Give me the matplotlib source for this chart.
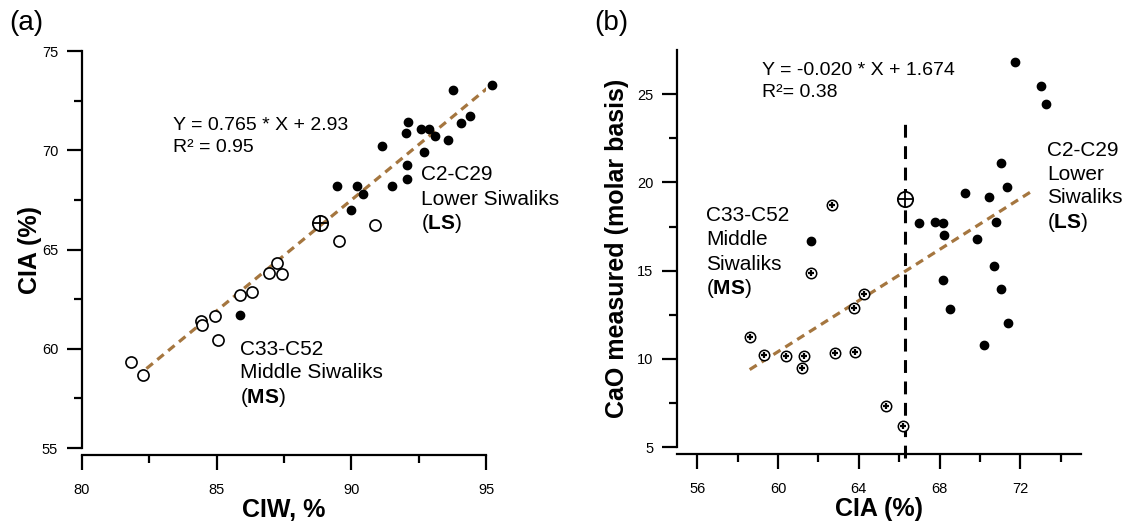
import matplotlib
matplotlib.use("Agg")
import matplotlib.pyplot as plt

plt.rcParams['font.family'] = ['Liberation Sans', 'DejaVu Sans']
plt.rcParams['mathtext.fontset'] = 'custom'
plt.rcParams['mathtext.rm'] = 'Liberation Sans'
plt.rcParams['mathtext.bf'] = 'Liberation Sans:bold'

# (a) CIW vs CIA
ls_ciw = [93.79, 95.23, 92.09, 92.02, 92.58, 92.87, 93.11, 93.59, 94.08, 94.41,
          91.12, 92.70, 92.08, 92.08, 91.50, 89.46, 90.20, 90.44, 89.97, 85.87]
ls_cia = [73.04, 73.29, 71.43, 70.86, 71.09, 71.06, 70.70, 70.50, 71.36, 71.74,
          70.22, 69.92, 69.28, 68.56, 68.20, 68.22, 68.22, 67.80, 67.01, 61.71]
ms_ciw = [90.87, 89.56, 87.23, 86.96, 87.44, 85.87, 86.33, 84.95, 84.41, 84.45,
          85.06, 81.84, 82.28]
ms_cia = [66.21, 65.44, 64.30, 63.84, 63.78, 62.72, 62.84, 61.63, 61.38, 61.21,
          60.42, 59.31, 58.66]
mean_a = (88.84, 66.33)
fit_a_x = [82.4, 95.2]
fit_a_y = [59.0, 73.3]

# (b) CIA vs CaO
ls_cia_b = [71.74, 73.02, 73.26, 71.02, 71.32, 69.26, 70.45, 66.99, 67.75, 68.18,
            68.20, 70.81, 69.85, 61.65, 70.68, 68.17, 71.06, 68.51, 71.37, 70.20]
ls_cao = [26.83, 25.47, 24.43, 21.08, 19.75, 19.38, 19.15, 17.72, 17.75, 17.68,
          17.02, 17.75, 16.79, 16.66, 15.26, 14.45, 13.96, 12.85, 12.02, 10.77]
ms_cia_b = [62.69, 61.62, 64.25, 63.75, 58.61, 59.29, 60.40, 61.31, 61.17, 62.81,
            63.83, 65.37, 66.17]
ms_cao = [18.70, 14.85, 13.70, 12.87, 11.26, 10.21, 10.17, 10.17, 9.47, 10.32,
          10.38, 7.34, 6.23]
mean_b = (66.30, 19.09)
fit_b_x = [58.6, 72.7]
fit_b_y = [9.4, 19.6]
cia_cut = 66.3
cia_cut_top = 23.4

fit_color = '#a5763f'


def style_axes(ax, xmaj, xmin, ymaj, ymin):
    ax.spines['top'].set_visible(False)
    ax.spines['right'].set_visible(False)
    ax.spines['left'].set_linewidth(1.6)
    ax.spines['bottom'].set_linewidth(1.6)
    ax.spines['bottom'].set_position(('outward', 5))
    ax.set_xticks(xmaj)
    ax.set_xticks(xmin, minor=True)
    ax.set_yticks(ymaj)
    ax.set_yticks(ymin, minor=True)
    ax.tick_params(which='major', length=11, width=1.6, labelsize=10.5, pad=6)
    ax.tick_params(axis='x', which='major', pad=9)
    ax.tick_params(which='minor', length=6, width=1.6)


fig = plt.figure(figsize=(11.26, 5.21), dpi=100)
ax1 = fig.add_axes([0.0726, 0.1401, 0.3591, 0.7620])
ax2 = fig.add_axes([0.6012, 0.1415, 0.3588, 0.7625])

# panel (a)
ax1.plot(fit_a_x, fit_a_y, color=fit_color, lw=2.3, dashes=(2.6, 1.8), zorder=1)
ax1.plot(ls_ciw, ls_cia, 'o', color='black', ms=6, ls='none', zorder=3, clip_on=False)
ax1.plot(ms_ciw, ms_cia, 'o', mfc='white', mec='black', mew=1.2, ms=8, ls='none',
         zorder=2, clip_on=False)
ax1.plot(*mean_a, 'o', mfc='none', mec='black', mew=1.3, ms=11, zorder=4)
ax1.plot(*mean_a, '+', color='black', mew=1.3, ms=11, zorder=4)
ax1.set_xlim(80, 95)
ax1.set_ylim(55, 75)
style_axes(ax1, [80, 85, 90, 95], [82.5, 87.5, 92.5],
           [55, 60, 65, 70, 75], [57.5, 62.5, 67.5, 72.5])
ax1.set_xlabel('CIW, %', fontsize=18, fontweight='bold', labelpad=1)
ax1.set_ylabel('CIA (%)', fontsize=18, fontweight='bold', labelpad=0)

ax1.text(83.4, 71.27, 'Y = 0.765 * X + 2.93', fontsize=14, va='center')
ax1.text(83.4, 70.15, 'R² = 0.95', fontsize=14, va='center')
ax1.text(92.58, 68.76, 'C2-C29', fontsize=15, va='center')
ax1.text(92.58, 67.52, 'Lower Siwaliks', fontsize=15, va='center')
ax1.text(92.58, 66.33, r'($\mathbf{LS}$)', fontsize=15, va='center')
ax1.text(85.87, 59.98, 'C33-C52', fontsize=15, va='center')
ax1.text(85.87, 58.78, 'Middle Siwaliks', fontsize=15, va='center')
ax1.text(85.87, 57.55, r'($\mathbf{MS}$)', fontsize=15, va='center')

# panel (b)
ax2.plot([cia_cut, cia_cut], [4.4, cia_cut_top], color='black', lw=2.2,
         dashes=(4.2, 2.8), clip_on=False, zorder=1)
ax2.plot(fit_b_x, fit_b_y, color=fit_color, lw=2.3, dashes=(2.6, 1.8), zorder=1)
ax2.plot(ls_cia_b, ls_cao, 'o', color='black', ms=6, ls='none', zorder=3, clip_on=False)
ax2.plot(ms_cia_b, ms_cao, 'o', mfc='white', mec='black', mew=1.1, ms=7.5, ls='none',
         zorder=2, clip_on=False)
ax2.plot(ms_cia_b, ms_cao, '+', color='black', mew=1.6, ms=4.2, ls='none', zorder=3)
ax2.plot(*mean_b, 'o', mfc='white', mec='black', mew=1.3, ms=11, zorder=4)
ax2.plot(*mean_b, '+', color='black', mew=1.3, ms=11, zorder=4)
ax2.set_xlim(55, 75)
ax2.set_ylim(5, 27.5)
style_axes(ax2, [56, 60, 64, 68, 72], [58, 62, 66, 70, 74],
           [5, 10, 15, 20, 25], [7.5, 12.5, 17.5, 22.5])
ax2.set_xlabel('CIA (%)', fontsize=18, fontweight='bold', labelpad=1)
ax2.set_ylabel('CaO measured (molar basis)', fontsize=18, fontweight='bold', labelpad=6)

ax2.text(59.19, 26.32, 'Y = -0.020 * X + 1.674', fontsize=14, va='center')
ax2.text(59.19, 25.08, 'R²= 0.38', fontsize=14, va='center')
ax2.text(56.46, 18.15, 'C33-C52', fontsize=15, va='center')
ax2.text(56.46, 16.77, 'Middle', fontsize=15, va='center')
ax2.text(56.46, 15.38, 'Siwaliks', fontsize=15, va='center')
ax2.text(56.46, 14.00, r'($\mathbf{MS}$)', fontsize=15, va='center')
ax2.text(73.31, 21.83, 'C2-C29', fontsize=15, va='center')
ax2.text(73.31, 20.47, 'Lower', fontsize=15, va='center')
ax2.text(73.31, 19.13, 'Siwaliks', fontsize=15, va='center')
ax2.text(73.31, 17.74, r'($\mathbf{LS}$)', fontsize=15, va='center')

fig.text(0.008, 0.955, '(a)', fontsize=20, va='center')
fig.text(0.528, 0.955, '(b)', fontsize=20, va='center')

fig.savefig('out.png', dpi=100)
